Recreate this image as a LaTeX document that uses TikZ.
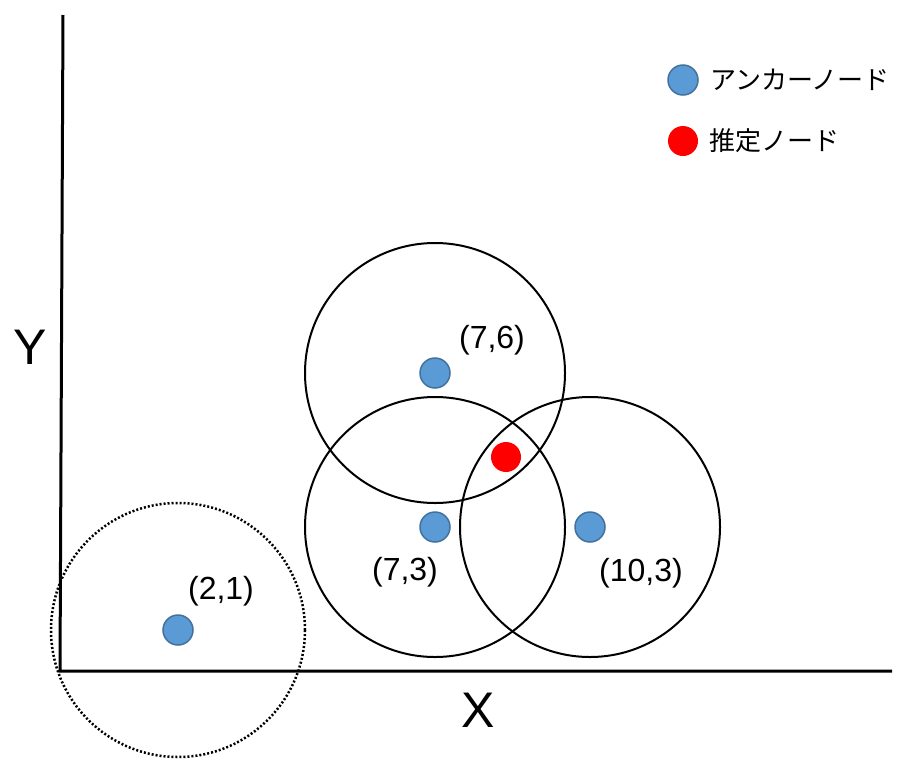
\documentclass[tikz,border=0pt]{standalone}
\usepackage{fontspec}
\setmainfont{Liberation Sans}
\newfontfamily\jpfont{Noto Sans CJK JP}
\usetikzlibrary{positioning}
\definecolor{Anc}{HTML}{5B9BD5}
\definecolor{AncLine}{HTML}{41719C}

\begin{document}
\begin{tikzpicture}[x=1pt,y=-1pt,
anc/.style={circle,draw=AncLine,line width=1.5pt,fill=Anc,minimum size=30pt,inner sep=0pt},
est/.style={circle,fill=red,minimum size=30pt,inner sep=0pt},
ring/.style={draw=black,line width=2pt},
axis/.style={draw=black,line width=3pt},
lab/.style={font=\fontsize{32}{38}\selectfont},
leg/.style={anchor=west,font=\jpfont\fontsize{26}{30}\selectfont}]
\useasboundingbox (0,0) rectangle (915,758);
% axes
\coordinate (orig) at (60,671);
\coordinate (ytop) at (63,15);
\coordinate (xend) at (892,671);
\draw[axis] (ytop)--(orig)--(xend);
\node[font=\fontsize{50}{56}\selectfont] (ylab) at (30,347) {Y};
\node[font=\fontsize{50}{56}\selectfont] (xlab) at (478,710) {X};
% anchors and ranges
\node[anc] (a21) at (178,630) {};
\node[anc] (a76) at (435,373) {};
\node[anc] (a73) at (435,527) {};
\node[anc] (a103) at (590,527) {};
\draw[ring,dotted,line width=2.5pt] (a21.center) circle[radius=127pt];
\draw[ring] (a76.center) circle[radius=130pt];
\draw[ring] (a73.center) circle[radius=130pt];
\draw[ring] (a103.center) circle[radius=130pt];
\node[est] (est) at (506,457) {};
\node[lab] (l21) at (221,591) {(2,1)};
\node[lab] (l76) at (492,340) {(7,6)};
\node[lab] (l73) at (405,572) {(7,3)};
\node[lab] (l103) at (641,573) {(10,3)};
% legend
\node[anc] (kanc) at (683,80) {};
\node[est] (kest) at (683,141) {};
\node[leg,right=8pt of kanc] (tanc) {アンカーノード};
\node[leg,right=8pt of kest] (test) {推定ノード};
\end{tikzpicture}
\end{document}
